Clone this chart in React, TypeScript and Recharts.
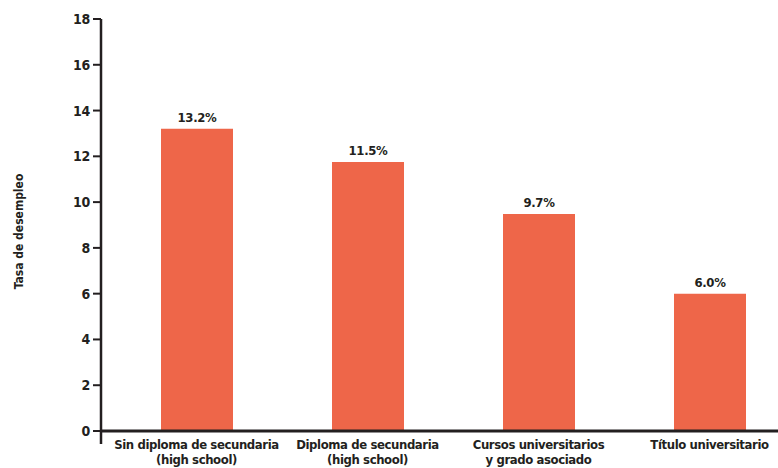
import { BarChart, Bar, XAxis, YAxis, LabelList, ReferenceLine } from 'recharts';

const categories = [
    'Sin diploma de secundaria\n(high school)',
    'Diploma de secundaria\n(high school)',
    'Cursos universitarios\ny grado asociado',
    'Título universitario',
];
// bar heights as drawn in the picture
const rates = [13.2, 11.75, 9.48, 6.0];
// value labels as printed above the bars
const rateLabels = ['13.2%', '11.5%', '9.7%', '6.0%'];
const yTicks = [0, 2, 4, 6, 8, 10, 12, 14, 16, 18];

const data = categories.map((name, i) => ({ name, rate: rates[i], label: rateLabels[i] }));

const FONT = "'DejaVu Sans Condensed', 'Liberation Sans Narrow', sans-serif";
const INK = '#231f20';
const BAR = '#ee6649';

function CategoryTick({ x, y, payload }: any) {
    const lines = String(payload.value).split('\n');
    return (
        <text
            x={x}
            y={y}
            textAnchor="middle"
            fill={INK}
            fontFamily={FONT}
            fontWeight={700}
            fontSize={13}
            letterSpacing={-0.4}
        >
            {lines.map((line, i) => (
                <tspan key={i} x={x} dy={i === 0 ? 5 : 15}>{line}</tspan>
            ))}
        </text>
    );
}

export default function App() {
    return (
        <div style={{ position: 'absolute', left: 0, top: 0, width: 778, height: 468, overflow: 'hidden', background: '#fff' }}>
            <BarChart width={812} height={490} data={data} margin={{ top: 19, right: 7, left: 0, bottom: 0 }}>
                <XAxis
                    dataKey="name"
                    axisLine={false}
                    tickLine={false}
                    tickSize={0}
                    tickMargin={0}
                    height={46}
                    interval={0}
                    padding={{ left: 10, right: 10 }}
                    tick={<CategoryTick />}
                />
                <YAxis
                    type="number"
                    domain={[-0.568, 18]}
                    ticks={yTicks}
                    width={101}
                    axisLine={{ stroke: INK, strokeWidth: 2.5 }}
                    tickLine={{ stroke: INK, strokeWidth: 2 }}
                    tickSize={8}
                    tickMargin={3}
                    tick={{ fill: INK, fontFamily: FONT, fontWeight: 700, fontSize: 14, letterSpacing: -0.3 }}
                    label={{
                        value: 'Tasa de desempleo',
                        angle: -90,
                        position: 'center',
                        dx: -32,
                        fill: INK,
                        fontFamily: FONT,
                        fontWeight: 700,
                        fontSize: 12,
                    }}
                />
                <ReferenceLine y={0} stroke={INK} strokeWidth={3} />
                <Bar dataKey="rate" fill={BAR} barSize={72} isAnimationActive={false}>
                    <LabelList
                        dataKey="label"
                        position="top"
                        offset={7}
                        fill={INK}
                        fontFamily={FONT}
                        fontWeight={700}
                        fontSize={13}
                        letterSpacing={-0.3}
                    />
                </Bar>
            </BarChart>
        </div>
    );
}
